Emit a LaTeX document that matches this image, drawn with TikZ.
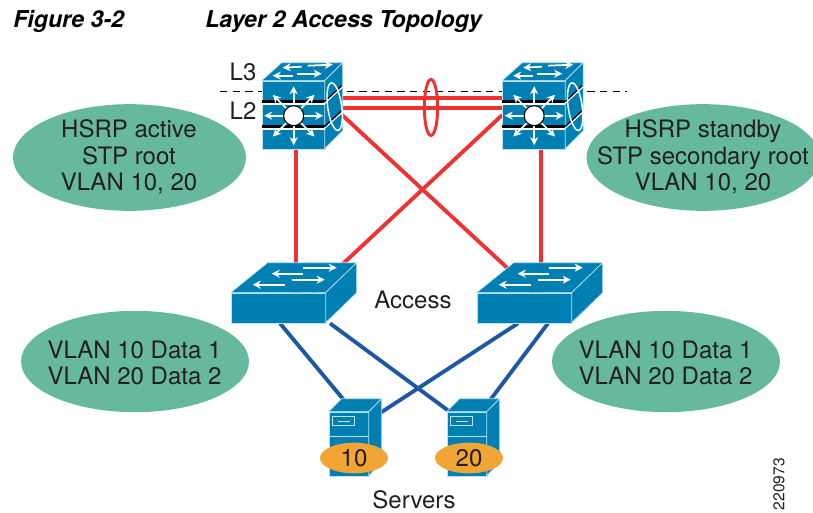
\documentclass[tikz,border=0pt]{standalone}
\usepackage{fontspec}
\setmainfont{TeX Gyre Heros}
\usetikzlibrary{shapes.geometric,backgrounds,arrows.meta}

\definecolor{devblue}{RGB}{0,128,178}
\definecolor{devline}{RGB}{190,225,240}
\definecolor{bubblegreen}{RGB}{102,184,158}
\definecolor{tagorange}{RGB}{240,165,52}
\definecolor{linkred}{RGB}{238,50,50}
\definecolor{linkblue}{RGB}{30,88,165}
\definecolor{inktext}{RGB}{35,31,32}

% multilayer switch body, around its front face node
\newcommand{\mlsbody}[1]{
    \begin{scope}[shift={(#1.north west)}]
        \draw[face] (0,0) -- (20,-18) -- (81,-18) -- (63,0) -- cycle;
        \draw[face] (63,0) -- (81,-18) -- (81,50) -- (63,68) -- cycle;
        \draw[flat] (46,-15) -- (71,-16);
        \draw[flat] (40,-14) -- (21,-13);
        \draw[flat] (35,-7) -- (60,-7);
        \draw[flat] (31,-5) -- (11,-5);
        \foreach \yband in {21,46} {
            \draw[white, line width=1pt] (0,\yband+2.2) -- (63,\yband+2.2);
            \draw[black, line width=1.8pt] (0,\yband) -- (63,\yband);
            \draw[white, line width=1pt] (63,\yband+1.5) -- (81,\yband-15);
            \draw[black, line width=0.9pt] (63,\yband) -- (80,\yband-16);
        }
        \draw[white, line width=1.1pt, rotate around={8:(73,26)}] (73,26) ellipse (7 and 24);
        \foreach \ang in {0,45,...,315}
            \draw[flat] (32,35) -- ++(\ang:29.5);
        \draw[black, fill=white, line width=0.8pt] (32,35) circle (10);
    \end{scope}
}

% access switch body
\newcommand{\accbody}[1]{
    \begin{scope}[shift={(#1.north west)}]
        \draw[face] (0,0) -- (37,-30) -- (126,-30) -- (95,0) -- cycle;
        \draw[face] (95,0) -- (126,-30) -- (126,0) -- (95,30) -- cycle;
        \draw[flat] (72,-25) -- (106,-25);
        \draw[flat] (72,-19) -- (41,-19);
        \draw[flat] (61,-13) -- (94,-13);
        \draw[flat] (54,-8) -- (22,-8);
    \end{scope}
}

% server body
\newcommand{\srvbody}[1]{
    \begin{scope}[shift={(#1.north west)}]
        \draw[face] (0,0) -- (13,-13) -- (53,-13) -- (40,0) -- cycle;
        \draw[face] (40,0) -- (53,-13) -- (53,51) -- (40,64) -- cycle;
        \draw[devline, line width=0.6pt] (0,25) -- (40,25);
        \draw[devline, line width=0.6pt] (4,5) rectangle (26,14);
        \draw[devline, line width=0.6pt] (9,9.5) -- (21,9.5);
    \end{scope}
}

\begin{document}
\begin{tikzpicture}[
    x=0.75pt, y=-0.75pt,
    front/.style={rectangle, draw=devline, fill=devblue, line width=0.5pt, inner sep=0pt},
    mls/.style={front, minimum width=47.25pt, minimum height=51pt},
    acc/.style={front, minimum width=71.25pt, minimum height=22.5pt},
    srv/.style={front, minimum width=30pt, minimum height=48pt},
    face/.style={draw=devline, fill=devblue, line width=0.5pt, line join=round},
    flat/.style={white, line width=1.3pt, -{Stealth[length=6pt,width=6pt]}},
    bubble/.style={ellipse, fill=bubblegreen, inner sep=0pt},
    bigbubble/.style={bubble, minimum width=174.75pt, minimum height=80pt},
    lowbubble/.style={bubble, minimum width=171pt, minimum height=76pt},
    bubbletext/.style={align=center, text=inktext, inner sep=0pt, font=\fontsize{18}{19.7}\selectfont},
    tag/.style={ellipse, fill=tagorange, inner sep=0pt, minimum width=51pt, minimum height=23pt,
        text=inktext, font=\fontsize{18}{19.5}\selectfont},
    label/.style={text=inktext, inner sep=0pt, font=\fontsize{18}{19.5}\selectfont},
    title/.style={anchor=base west, inner sep=0pt, font=\fontsize{17.4}{20}\selectfont\bfseries\itshape},
    redlink/.style={linkred, line width=2.9pt},
    bluelink/.style={linkblue, line width=2.9pt}
]
    \useasboundingbox (0,0) rectangle (813,512);

    % Title
    \node[title] (fig) at (13,27) {Figure 3-2};
    \node[title] (cap) at (205,27) {Layer 2 Access Topology};

    % Bubbles
    \node[bigbubble] (b1) at (129.5,157.5) {};
    \node[bubbletext] (b1t) at (129,157) {HSRP active\\STP root\\VLAN 10, 20};
    \node[bigbubble] (b2) at (703,157.5) {};
    \node[bubbletext] (b2t) at (703,157) {HSRP standby\\STP secondary root\\VLAN 10, 20};
    \node[lowbubble] (b3) at (135,361.5) {};
    \node[bubbletext] (b3t) at (134.5,363) {VLAN 10 Data 1\\VLAN 20 Data 2};
    \node[lowbubble] (b4) at (666,361.5) {};
    \node[bubbletext] (b4t) at (665.5,363) {VLAN 10 Data 1\\VLAN 20 Data 2};

    % Devices
    \node[mls] (dist1) at (293.5,115) {};
    \mlsbody{dist1}
    \node[mls] (dist2) at (534,115) {};
    \mlsbody{dist2}
    \node[acc] (acc1) at (278.5,308) {};
    \accbody{acc1}
    \node[acc] (acc2) at (524.5,308) {};
    \accbody{acc2}
    \node[srv] (srv1) at (349,444) {};
    \srvbody{srv1}
    \node[srv] (srv2) at (467,444) {};
    \srvbody{srv2}

    % Links, behind the devices
    \begin{scope}[on background layer]
        \coordinate (d1) at (220,91);
        \coordinate (d2) at (627,91);
        \draw[black, line width=0.6pt, dash pattern=on 5.5pt off 4pt] (d1) -- (d2);
        \draw[redlink] ([shift={(0,-17)}]dist1.east) -- ([shift={(0,-17)}]dist2.west);
        \draw[redlink] ([shift={(0,-7)}]dist1.east) -- ([shift={(0,-7)}]dist2.west);
        \draw[redlink] ([shift={(2.5,0)}]dist1.south) -- ([shift={(17.5,0)}]acc1.north);
        \draw[redlink] ([shift={(7,0)}]dist2.south) -- ([shift={(16.5,0)}]acc2.north);
        \draw[redlink] ([shift={(0,-15.5)}]dist1.east) -- ([shift={(9.5,0)}]acc2.north);
        \draw[redlink] (dist2.west) -- ([shift={(33.5,0)}]acc1.north);
        \draw[bluelink] ([shift={(1.5,0)}]acc1.south) -- ([shift={(4.6,0)}]srv1.north);
        \draw[bluelink] ([shift={(51.5,0)}]acc1.south) -- ([shift={(-17.3,0)}]srv2.north);
        \draw[bluelink] ([shift={(-6.5,0)}]acc2.south) -- ([shift={(0,-24)}]srv1.east);
        \draw[bluelink] ([shift={(23.5,0)}]acc2.south) -- ([shift={(14.4,0)}]srv2.north);
    \end{scope}

    % Channel ring
    \node[ellipse, draw=linkred, line width=2.2pt, minimum width=10pt, minimum height=42pt, inner sep=0pt] (lag) at (431,107.5) {};

    % Tags
    \node[tag] (t10) at (354,458) {10};
    \node[tag] (t20) at (469,458) {20};

    % Labels
    \node[label] (l3) at (243,72) {L3};
    \node[label] (l2) at (243,111) {L2};
    \node[label] (lacc) at (413,300) {Access};
    \node[label] (lsrv) at (414,500) {Servers};
    \node[rotate=90, inner sep=0pt, text=inktext, font=\fontsize{11.7}{12}\selectfont] (num) at (779,484) {220973};
\end{tikzpicture}
\end{document}
